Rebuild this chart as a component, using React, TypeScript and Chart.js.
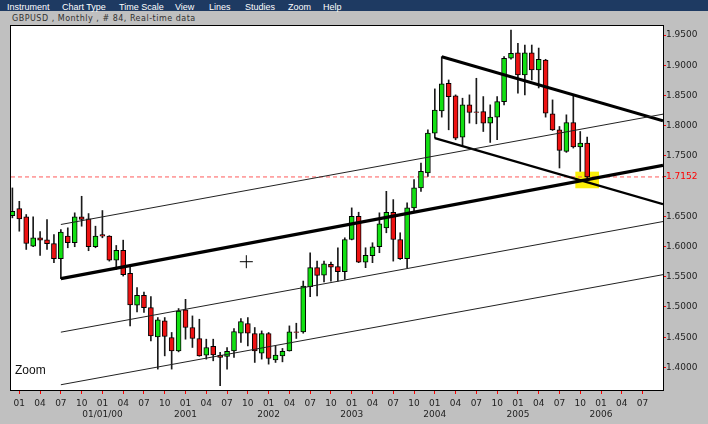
import { useEffect, useRef } from 'react';
import { Chart, registerables } from 'chart.js';

Chart.register(...registerables);

// Month index 0 = January 1999; the series starts in December 1998.
const firstMonth = -1;

const openPrices = [
  1.6513, 1.6629, 1.6492, 1.6007, 1.6145, 1.6112, 1.6051, 1.5799, 1.6172, 1.6063, 1.6492, 1.6459,
  1.5997, 1.6200, 1.6172, 1.5776, 1.5936, 1.5556, 1.5028, 1.5193, 1.4990, 1.4505, 1.4769, 1.4495,
  1.4274, 1.4951, 1.4660, 1.4479, 1.4203, 1.4347, 1.4198, 1.4182, 1.4274, 1.4566, 1.4726, 1.4561,
  1.4236, 1.4561, 1.4125, 1.4191, 1.4274, 1.4587, 1.4587, 1.5337, 1.5650, 1.5528, 1.5705, 1.5667,
  1.5584, 1.6117, 1.6502, 1.5743, 1.5848, 1.5997, 1.6310, 1.6568, 1.6117, 1.5799, 1.6640, 1.6970,
  1.7218, 1.7878, 1.8246, 1.8703, 1.8493, 1.7812, 1.8345, 1.8228, 1.8234, 1.8043, 1.8142, 1.8399,
  1.9116, 1.9208, 1.8840, 1.9208, 1.8922, 1.9087, 1.8196, 1.7932, 1.7574, 1.8053, 1.7647, 1.7713,
];

const highPrices = [
  1.6970, 1.6749, 1.6530, 1.6492, 1.6249, 1.6447, 1.6200, 1.6282, 1.6310, 1.6558, 1.6832, 1.6546,
  1.6337, 1.6596, 1.6180, 1.6018, 1.6106, 1.5677, 1.5320, 1.5248, 1.5172, 1.4825, 1.4825, 1.4578,
  1.4974, 1.5127, 1.4852, 1.4797, 1.4467, 1.4467, 1.4248, 1.4330, 1.4644, 1.4809, 1.4825, 1.4660,
  1.4604, 1.4578, 1.4356, 1.4314, 1.4687, 1.4731, 1.5429, 1.5898, 1.5759, 1.5759, 1.5743, 1.5980,
  1.6145, 1.6640, 1.6568, 1.5980, 1.6063, 1.6558, 1.6914, 1.6777, 1.6228, 1.6723, 1.7107, 1.7383,
  1.7932, 1.8609, 1.9142, 1.8757, 1.8510, 1.8455, 1.8510, 1.8785, 1.8482, 1.8345, 1.8482, 1.9142,
  1.9583, 1.9363, 1.9335, 1.9335, 1.9285, 1.9099, 1.8427, 1.7987, 1.8180, 1.8510, 1.7904, 1.7812,
];

const lowPrices = [
  1.6475, 1.6254, 1.5952, 1.5997, 1.5853, 1.5952, 1.5733, 1.5469, 1.5980, 1.5997, 1.6337, 1.5931,
  1.5980, 1.6145, 1.5759, 1.5622, 1.5512, 1.4687, 1.4918, 1.4908, 1.4439, 1.3972, 1.4191, 1.3972,
  1.4257, 1.4467, 1.4330, 1.4185, 1.4137, 1.4109, 1.3696, 1.3972, 1.4165, 1.4413, 1.4356, 1.4082,
  1.4137, 1.4054, 1.4082, 1.4092, 1.4270, 1.4479, 1.4566, 1.5172, 1.5182, 1.5413, 1.5429, 1.5429,
  1.5457, 1.6110, 1.5733, 1.5650, 1.5733, 1.5898, 1.6228, 1.5759, 1.5787, 1.5650, 1.6584, 1.6914,
  1.7162, 1.7795, 1.8142, 1.7932, 1.7767, 1.7657, 1.8043, 1.8031, 1.7904, 1.7723, 1.7767, 1.8345,
  1.9100, 1.8538, 1.8510, 1.8757, 1.8625, 1.8142, 1.7921, 1.7300, 1.7558, 1.7630, 1.7244, 1.7135,
];

const closePrices = [
  1.6584, 1.6459, 1.6051, 1.6145, 1.6106, 1.6046, 1.5799, 1.6238, 1.6063, 1.6492, 1.6447, 1.5997,
  1.6172, 1.6172, 1.5776, 1.5936, 1.5535, 1.5033, 1.5193, 1.4990, 1.4522, 1.4786, 1.4512, 1.4274,
  1.4934, 1.4660, 1.4479, 1.4191, 1.4330, 1.4208, 1.4165, 1.4264, 1.4594, 1.4759, 1.4566, 1.4274,
  1.4561, 1.4148, 1.4203, 1.4264, 1.4587, 1.4578, 1.5347, 1.5650, 1.5523, 1.5716, 1.5660, 1.5584,
  1.6117, 1.6502, 1.5743, 1.5853, 1.5997, 1.6376, 1.6568, 1.6117, 1.5799, 1.6640, 1.6970, 1.7244,
  1.7878, 1.8257, 1.8691, 1.8482, 1.7795, 1.8345, 1.8218, 1.8218, 1.8043, 1.8142, 1.8399, 1.9116,
  1.9198, 1.8840, 1.9208, 1.8922, 1.9099, 1.8208, 1.7932, 1.7591, 1.8053, 1.7647, 1.7713, 1.7152,
];

const lastPrice = 1.7152;
const priceTicks = [1.95, 1.9, 1.85, 1.8, 1.75, lastPrice, 1.65, 1.6, 1.55, 1.5, 1.45, 1.4];
const monthTicks = [0, 3, 6, 9, 12, 15, 18, 21, 24, 27, 30, 33, 36, 39, 42, 45, 48, 51, 54, 57, 60, 63, 66, 69, 72, 75, 78, 81, 84, 87, 90];
const monthLabels = ['01', '04', '07', '10'];
const yearLabels: Record<number, string> = {
  12: '01/01/00', 24: '2001', 36: '2002', 48: '2003', 60: '2004', 72: '2005', 84: '2006',
};

// visible time window (month index)
const axisStart = -1.2;
const axisEnd = 92.95;
const priceMin = 1.3626;
const priceMax = 1.965;

// hand-drawn channel and trend lines: [month, price] end points
const risingSupport = [[6, 1.5469], [axisEnd, 1.7343]];
const risingUpper = [[6, 1.6365], [axisEnd, 1.8191]];
const risingLower = [[6, 1.4583], [axisEnd, 1.6414]];
const risingBottom = [[6, 1.3713], [axisEnd, 1.5535]];
const fallingUpper = [[61, 1.9142], [axisEnd, 1.8081]];
const fallingLower = [[60, 1.7795], [axisEnd, 1.6703]];

// marker around the trend-line crossing, and the mouse cursor
const crossingMonth = 82;
const crossingRange = [1.697, 1.7234];
const cursorPoint = { x: 32.78, y: 1.5749 };

const menuItems: [string, number][] = [
  ['Instrument', 7], ['Chart Type', 62], ['Time Scale', 119], ['View', 175],
  ['Lines', 209], ['Studies', 245], ['Zoom', 288], ['Help', 323],
];

const UP = '#12e012';
const DOWN = '#ee1212';

const toPoints = (pts: number[][]) => pts.map(([x, y]) => ({ x, y }));

const framePlugin = {
  id: 'plotFrame',
  beforeDraw(chart: any) {
    const { ctx, chartArea } = chart;
    ctx.save();
    ctx.fillStyle = '#ffffff';
    ctx.fillRect(chartArea.left, chartArea.top, chartArea.width, chartArea.height);
    ctx.restore();
  },
  afterDraw(chart: any) {
    const { ctx, chartArea } = chart;
    ctx.save();
    ctx.strokeStyle = '#000000';
    ctx.lineWidth = 1;
    ctx.strokeRect(chartArea.left - 0.5, chartArea.top - 0.5, chartArea.width + 1, chartArea.height + 1);
    ctx.restore();
  },
};

export default function App() {
  const canvasRef = useRef<HTMLCanvasElement>(null);

  useEffect(() => {
    if (!canvasRef.current) return;
    const months = openPrices.map((_, i) => firstMonth + i);
    const bodies = months.map((m, i) => ({ x: m, y: [openPrices[i], closePrices[i]] }));
    const wicks = months.map((m, i) => ({ x: m, y: [lowPrices[i], highPrices[i]] }));
    const bodyColors = months.map((_, i) => (closePrices[i] >= openPrices[i] ? UP : DOWN));

    const trendLine = (pts: number[][], width: number, color = '#000000') => ({
      type: 'line' as const,
      data: toPoints(pts),
      borderColor: color,
      borderWidth: width,
      pointRadius: 0,
      fill: false,
      tension: 0,
      order: 2,
    });

    const chart = new Chart(canvasRef.current, {
      type: 'bar',
      data: {
        datasets: [
          {
            type: 'bar',
            data: [{ x: crossingMonth, y: crossingRange }],
            backgroundColor: '#fbee0a',
            barThickness: 23,
            grouped: false,
            order: 9,
          } as any,
          {
            type: 'line',
            data: [{ x: axisStart, y: lastPrice }, { x: axisEnd, y: lastPrice }],
            borderColor: '#ff5a5a',
            borderWidth: 1,
            borderDash: [4, 3],
            pointRadius: 0,
            order: 8,
          },
          {
            type: 'bar',
            data: wicks,
            backgroundColor: '#1a1a1a',
            barThickness: 1,
            grouped: false,
            order: 6,
          } as any,
          {
            type: 'bar',
            data: bodies,
            backgroundColor: bodyColors,
            borderColor: '#000000',
            borderWidth: 1,
            borderSkipped: false,
            barThickness: 5,
            grouped: false,
            order: 5,
          } as any,
          trendLine(risingSupport, 3.2),
          trendLine(risingUpper, 1, '#222222'),
          trendLine(risingLower, 1, '#222222'),
          trendLine(risingBottom, 1, '#222222'),
          trendLine(fallingUpper, 3),
          trendLine(fallingLower, 2.2),
          {
            type: 'line',
            data: [cursorPoint],
            showLine: false,
            pointStyle: 'cross',
            pointRadius: 6.5,
            pointBorderWidth: 1,
            pointBorderColor: '#000000',
            order: 1,
          },
        ],
      },
      options: {
        responsive: false,
        animation: false,
        events: [],
        layout: { padding: { top: 26, left: 11, right: 0, bottom: 0 } },
        plugins: { legend: { display: false }, tooltip: { enabled: false } },
        scales: {
          x: {
            type: 'linear',
            min: axisStart,
            max: axisEnd,
            offset: false,
            border: { display: false },
            grid: { drawOnChartArea: false, offset: false, color: '#ff0000', tickLength: 4, tickWidth: 1 },
            afterBuildTicks: (axis: any) => {
              axis.ticks = monthTicks.map((value) => ({ value }));
            },
            afterFit: (axis: any) => {
              axis.height = 34;
            },
            ticks: {
              autoSkip: false,
              maxRotation: 0,
              padding: 4,
              color: '#1e1e1e',
              font: { family: 'DejaVu Sans', size: 9, lineHeight: 1.2 },
              callback: (value: any) => {
                const m = Number(value);
                const label = monthLabels[(m % 12) / 3];
                const year = yearLabels[m];
                return year ? [label, year] : label;
              },
            },
          },
          y: {
            type: 'linear',
            position: 'right',
            min: priceMin,
            max: priceMax,
            beginAtZero: false,
            border: { display: false },
            grid: { drawOnChartArea: false, color: '#ff0000', tickLength: 3, tickWidth: 1 },
            afterBuildTicks: (axis: any) => {
              axis.ticks = priceTicks.map((value) => ({ value }));
            },
            afterFit: (axis: any) => {
              axis.width = 45;
            },
            ticks: {
              padding: 0,
              font: { family: 'DejaVu Sans', size: 9 },
              color: (ctx: any) => (ctx.tick && ctx.tick.value === lastPrice ? '#ff0000' : '#1e1e1e'),
              callback: (value: any) => Number(value).toFixed(4),
            },
          },
        },
      },
      plugins: [framePlugin],
    } as any);

    return () => chart.destroy();
  }, []);

  return (
    <div
      style={{
        position: 'fixed',
        left: 0,
        top: 0,
        width: 708,
        height: 424,
        background: '#c0c0c0',
        overflow: 'hidden',
      }}
    >
      <div style={{ position: 'absolute', left: 0, top: 0, width: 708, height: 11, background: '#1e3a62' }} />
      {menuItems.map(([label, x]) => (
        <span
          key={label}
          style={{
            position: 'absolute',
            left: x,
            top: 2,
            color: '#ffffff',
            font: '9px "Liberation Sans"',
            lineHeight: '10px',
            whiteSpace: 'nowrap',
          }}
        >
          {label}
        </span>
      ))}
      <div
        style={{
          position: 'absolute',
          left: 12,
          top: 14,
          font: '8px "DejaVu Sans"',
          lineHeight: '10px',
          color: '#303030',
          whiteSpace: 'nowrap',
          letterSpacing: '0.5px',
        }}
      >
        GBPUSD , Monthly , # 84, Real-time data
      </div>
      <canvas ref={canvasRef} width={708} height={424} style={{ position: 'absolute', left: 0, top: 0 }} />
      <div
        style={{
          position: 'absolute',
          left: 15,
          top: 363,
          font: '12px "Liberation Sans"',
          lineHeight: '14px',
          color: '#111111',
        }}
      >
        Zoom
      </div>
    </div>
  );
}
